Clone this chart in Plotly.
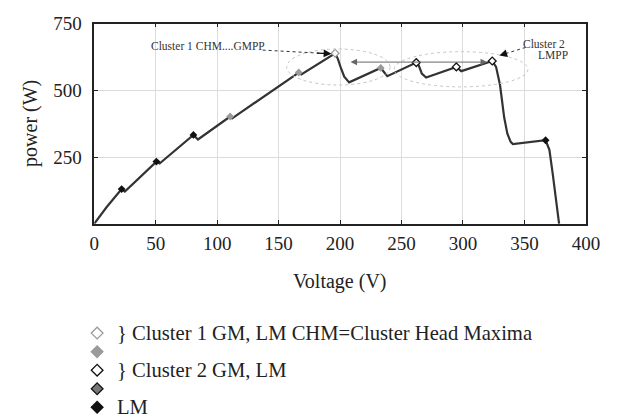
import plotly.graph_objects as go

# ---------------- data ----------------
voltage = [0, 10, 22.3, 24.9, 50.6, 53.2, 80.7, 84.4, 110.6, 112.2, 166.4, 168.5,
           196, 198.2, 200.8, 203.4, 207.4, 233.1, 238.4, 262, 264, 266.5, 270,
           294.6, 298.6, 323.8, 326.9, 330.1, 333.5, 336.1, 338.8, 340.6,
           367.2, 370.3, 372.9, 375.6, 378.2]
power = [0, 62, 130, 121, 233, 226, 333, 316, 402, 395, 567, 560,
         639, 618, 582, 551, 530, 584, 553, 604, 594, 563, 548,
         588, 572, 610, 588, 521, 399, 338, 307, 299,
         313, 277, 191, 94, 0]

lm_v = [22.3, 50.6, 80.7, 367.2]
lm_p = [130, 233, 333, 313]
c1_lm_v = [110.6, 166.4, 233.1]
c1_lm_p = [402, 567, 584]
c1_gm_v = [196]
c1_gm_p = [639]
c2_v = [262, 294.6, 323.8]
c2_p = [604, 588, 610]

x_ticks = [0, 50, 100, 150, 200, 250, 300, 350, 400]
y_ticks = [250, 500, 750]

legend_labels = ["} Cluster 1 GM, LM CHM=Cluster Head Maxima", "", "} Cluster 2 GM, LM", "", "LM"]
legend_symbols = ["diamond-open", "diamond", "diamond-open", "diamond", "diamond"]
legend_fill = ["#9a9a9a", "#9a9a9a", "#111111", "#777777", "#111111"]
legend_line = ["#9a9a9a", "#9a9a9a", "#111111", "#111111", "#111111"]

FONT = "Liberation Serif"
W, H = 629, 419
L, R, T, B = 92, 599, 14, 219

fig = go.Figure()

fig.add_trace(go.Scatter(x=voltage, y=power, mode="lines",
                         line=dict(color="#333333", width=2.2), showlegend=False))
fig.add_trace(go.Scatter(x=c1_lm_v, y=c1_lm_p, mode="markers",
                         marker=dict(symbol="diamond", size=6, color="#9a9a9a"), showlegend=False))
fig.add_trace(go.Scatter(x=c1_gm_v, y=c1_gm_p, mode="markers",
                         marker=dict(symbol="diamond", size=6, color="white",
                                     line=dict(width=1.2, color="#9a9a9a")), showlegend=False))
fig.add_trace(go.Scatter(x=c2_v, y=c2_p, mode="markers",
                         marker=dict(symbol="diamond", size=6, color="white",
                                     line=dict(width=1.3, color="#111111")), showlegend=False))
fig.add_trace(go.Scatter(x=lm_v, y=lm_p, mode="markers",
                         marker=dict(symbol="diamond", size=6, color="#111111"), showlegend=False))

# legend drawn on a pixel overlay axis
row_y = [331, 350, 369, 388, 407]
fig.add_trace(go.Scatter(x=[95] * len(row_y), y=row_y, mode="markers", xaxis="x2", yaxis="y2",
                         marker=dict(symbol=legend_symbols, size=9, color=legend_fill,
                                     line=dict(width=1.3, color=legend_line)),
                         showlegend=False, hoverinfo="skip", cliponaxis=False))

annotations = []
for lab, yy in zip(legend_labels, row_y):
    if lab:
        annotations.append(dict(x=113, y=yy, xref="x2", yref="y2", text=lab, showarrow=False,
                                xanchor="left", yanchor="middle",
                                font=dict(family=FONT, size=20.6, color="#222")))

# axis titles
annotations.append(dict(x=(L + R) / 2, y=278, xref="x2", yref="y2", text="Voltage (V)",
                        showarrow=False, xanchor="center", yanchor="middle",
                        font=dict(family=FONT, size=20, color="#222")))
annotations.append(dict(x=27, y=(T + B) / 2, xref="x2", yref="y2", text="power (W)",
                        showarrow=False, textangle=-90, xanchor="center", yanchor="middle",
                        font=dict(family=FONT, size=20, color="#222")))

# in-plot labels
annotations.append(dict(x=92.6, y=666, xref="x", yref="y", text="Cluster 1 CHM....GMPP",
                        showarrow=False, font=dict(family=FONT, size=11.5, color="#333")))
annotations.append(dict(x=365.7, y=674, xref="x", yref="y", text="Cluster 2",
                        showarrow=False, font=dict(family=FONT, size=11.5, color="#333")))
annotations.append(dict(x=373.5, y=631, xref="x", yref="y", text="LMPP",
                        showarrow=False, font=dict(family=FONT, size=11.5, color="#333")))

# arrowheads for dotted pointers
annotations.append(dict(x=193, y=637, ax=180, ay=640, xref="x", yref="y", axref="x", ayref="y",
                        text="", showarrow=True, arrowhead=2, arrowsize=1.3, arrowwidth=1.2,
                        arrowcolor="#111"))
annotations.append(dict(x=329.6, y=631, ax=335, ay=638.5, xref="x", yref="y", axref="x", ayref="y",
                        text="", showarrow=True, arrowhead=2, arrowsize=1.3, arrowwidth=1.2,
                        arrowcolor="#111"))
# double-headed arrow between clusters
annotations.append(dict(x=319.6, y=606, ax=207.3, ay=606, xref="x", yref="y", axref="x", ayref="y",
                        text="", showarrow=True, arrowhead=2, startarrowhead=2, arrowside="end+start",
                        arrowsize=1.3, arrowwidth=1, arrowcolor="#666"))

shapes = [
    dict(type="circle", xref="x", yref="y", x0=156.6, x1=240.7, y0=520, y1=655,
         line=dict(color="#c4c4c4", width=1, dash="dot")),
    dict(type="circle", xref="x", yref="y", x0=244, x1=352.8, y0=513, y1=645,
         line=dict(color="#c4c4c4", width=1, dash="dot")),
    dict(type="line", xref="x", yref="y", x0=137, y0=651, x1=183, y1=639.5,
         line=dict(color="#333", width=1, dash="dot")),
    dict(type="line", xref="x", yref="y", x0=351, y0=661, x1=334, y1=637,
         line=dict(color="#333", width=1, dash="dot")),
]

axis_common = dict(showline=True, mirror="ticks", linecolor="#222", linewidth=1.5,
                   ticks="inside", ticklen=4, tickcolor="#222", tickwidth=1.2,
                   showgrid=True, gridcolor="#dcdcdc", gridwidth=1, zeroline=False,
                   tickfont=dict(family=FONT, size=19, color="#222"))

fig.update_layout(
    width=W, height=H,
    margin=dict(l=0, r=0, t=0, b=0),
    paper_bgcolor="white", plot_bgcolor="rgba(0,0,0,0)",
    showlegend=False,
    xaxis=dict(domain=[L / W, R / W], range=[0, 400], tickvals=x_ticks,
               ticklabelstandoff=2, **axis_common),
    yaxis=dict(domain=[1 - B / H, 1 - T / H], range=[0, 750], tickvals=y_ticks,
               ticklabelstandoff=7, **axis_common),
    xaxis2=dict(domain=[0, 1], range=[0, W], visible=False, fixedrange=True, anchor="y2"),
    yaxis2=dict(domain=[0, 1], range=[H, 0], visible=False, fixedrange=True, anchor="x2"),
    annotations=annotations,
    shapes=shapes,
)

fig.write_html("out.html")
